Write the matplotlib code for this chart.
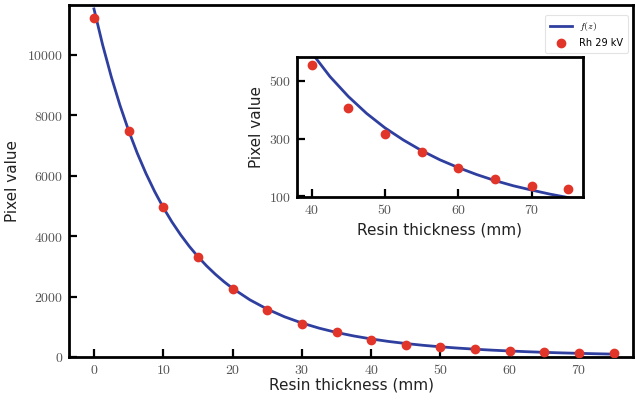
import matplotlib
matplotlib.use("Agg")
import matplotlib.pyplot as plt
from matplotlib.ticker import FuncFormatter

plt.rcParams['mathtext.fontset'] = 'cm'

# measured points (Rh 29 kV)
thickness = [0, 5, 10, 15, 20, 25, 30, 35, 40, 45, 50, 55, 60, 65, 70, 75]
pixel = [11220, 7490, 4950, 3300, 2245, 1555, 1090, 820, 556, 407, 315, 254, 196, 158, 135, 124]

# fitted curve f(z)
z_fit = [0, 1.25, 2.5, 3.75, 5, 6.25, 7.5, 8.75, 10, 11.25, 12.5, 13.75, 15, 16.25, 17.5,
         18.75, 20, 22.5, 25, 27.5, 30, 32.5, 35, 37.5, 40, 42.5, 45, 47.5, 50, 52.5, 55,
         57.5, 60, 62.5, 65, 67.5, 70, 72.5, 75]
f_fit = [11520, 10331, 9273, 8332, 7492, 6744, 6076, 5480, 4947, 4471, 4046, 3664, 3322,
         3016, 2742, 2495, 2272, 1892, 1584, 1331, 1125, 954, 812, 696, 598, 515, 446, 387,
         337, 295, 258, 226, 199, 175, 154, 136, 121, 107, 95]

blue = '#2f3f9f'
red = '#e2352a'
tick_gray = '#555555'
label_col = '#222222'


def cm_fmt(v, pos):
    return r'$%d$' % v


fig = plt.figure(figsize=(6.35, 4.0), dpi=100)
ax = fig.add_axes([0.1087, 0.1075, 0.8883, 0.88])

ax.plot(z_fit, f_fit, color=blue, lw=2.0, label=r'$f(z)$', zorder=2)
ax.scatter(thickness, pixel, s=36, color=red, label='Rh 29 kV', zorder=3)
ax.set_xlim(-3.6, 77.8)
ax.set_ylim(0, 11650)
ax.set_xticks(range(0, 80, 10))
ax.set_yticks(range(0, 12000, 2000))
ax.xaxis.set_major_formatter(FuncFormatter(cm_fmt))
ax.yaxis.set_major_formatter(FuncFormatter(cm_fmt))
ax.set_xlabel('Resin thickness (mm)', fontsize=11, color=label_col, labelpad=1)
ax.set_ylabel('Pixel value', fontsize=11, color=label_col, labelpad=5)
ax.tick_params(direction='in', length=6, width=1.6, labelsize=10, labelcolor=tick_gray, pad=4)
for s in ax.spines.values():
    s.set_linewidth(2.0)
leg = ax.legend(loc='upper right', fontsize=7, frameon=True, fancybox=True,
                borderpad=0.5, handlelength=2.2, bbox_to_anchor=(1.0, 0.985))
leg.get_frame().set_edgecolor('#dddddd')
leg.get_frame().set_linewidth(0.8)

# inset zoom on the tail
ins = fig.add_axes([0.4677, 0.5075, 0.4503, 0.35])
ins.plot(z_fit, f_fit, color=blue, lw=2.0, zorder=2)
ins.scatter(thickness[8:], pixel[8:], s=36, color=red, zorder=3)
ins.set_xlim(38.0, 77.0)
ins.set_ylim(97, 583)
ins.set_xticks([40, 50, 60, 70])
ins.set_yticks([100, 300, 500])
ins.xaxis.set_major_formatter(FuncFormatter(cm_fmt))
ins.yaxis.set_major_formatter(FuncFormatter(cm_fmt))
ins.set_xlabel('Resin thickness (mm)', fontsize=11, color=label_col, labelpad=4)
ins.set_ylabel('Pixel value', fontsize=11, color=label_col, labelpad=4)
ins.tick_params(direction='in', length=6, width=1.6, labelsize=10, labelcolor=tick_gray, pad=4)
for s in ins.spines.values():
    s.set_linewidth(2.0)

fig.savefig('out.png', dpi=100)
